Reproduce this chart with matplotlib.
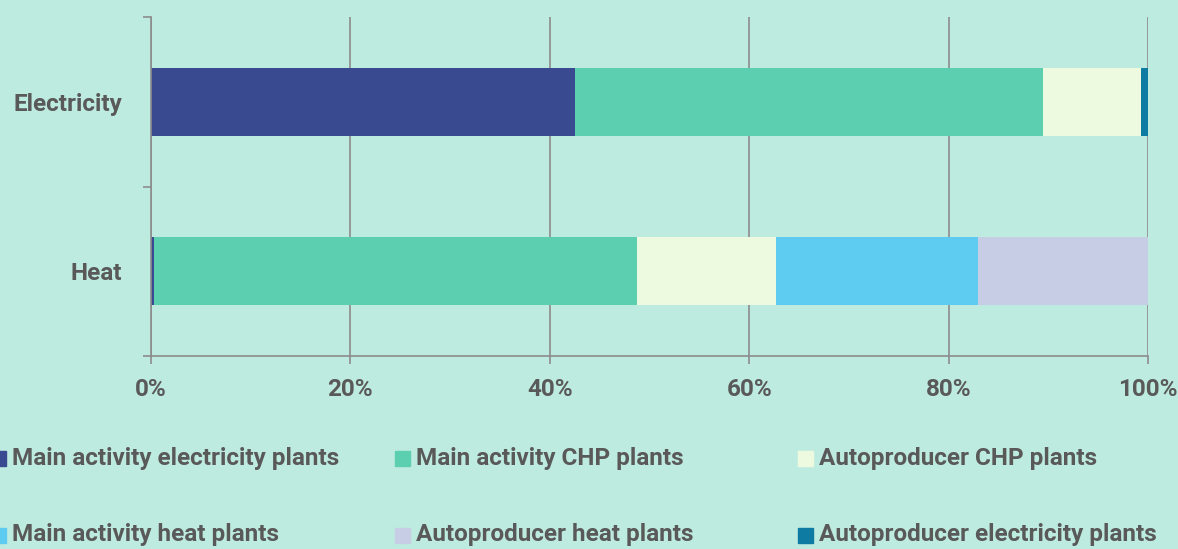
import matplotlib
matplotlib.use("Agg")
import matplotlib.pyplot as plt
from matplotlib.patches import Rectangle
from matplotlib.ticker import FuncFormatter

categories = ["Electricity", "Heat"]
series = [
    "Main activity electricity plants",
    "Main activity CHP plants",
    "Autoproducer CHP plants",
    "Main activity heat plants",
    "Autoproducer heat plants",
    "Autoproducer electricity plants",
]
main_elec = [42.5, 0.3]
main_chp = [47.0, 48.4]
auto_chp = [9.8, 14.0]
main_heat = [0.0, 20.2]
auto_heat = [0.0, 17.1]
auto_elec = [0.7, 0.0]
values = [main_elec, main_chp, auto_chp, main_heat, auto_heat, auto_elec]
colors = ["#3a4a91", "#5dcfb1", "#eefadf", "#5ecbf0", "#c8cde6", "#0e7ba3"]
xticks = [0, 20, 40, 60, 80, 100]

BG = "#beebdf"
TXT = "#595959"
GRID = "#8c8c8c"
FS = 17.5

plt.rcParams["font.family"] = ["Roboto", "DejaVu Sans"]
plt.rcParams["font.weight"] = "bold"

fig = plt.figure(figsize=(11.78, 5.49), dpi=100, facecolor=BG)
ax = fig.add_axes([151/1178, 1-356/549, (1148-151)/1178, (356-17)/549])
ax.set_facecolor(BG)

ypos = list(range(len(categories)))
left = [0.0] * len(categories)
for name, vals, c in zip(series, values, colors):
    ax.barh(ypos, vals, left=left, height=0.4, color=c, label=name, zorder=3)
    left = [l + v for l, v in zip(left, vals)]

ax.set_xlim(0, 100)
ax.set_ylim(1.5, -0.5)
ax.set_xticks(xticks)
ax.xaxis.set_major_formatter(FuncFormatter(lambda v, p: f"{v:.0f}%"))
ax.set_yticks([-0.5, 0.5, 1.5])
ax.set_yticklabels([])
ax.set_yticks(ypos, minor=True)
ax.set_yticklabels(categories, minor=True)
ax.tick_params(axis="y", which="minor", length=0, pad=21, labelsize=FS, labelcolor=TXT)
ax.tick_params(axis="y", which="major", length=6, color=GRID, width=1.2)
ax.tick_params(axis="x", length=6, color=GRID, width=1.2, labelsize=FS, labelcolor=TXT, pad=10)
for lab in ax.get_xticklabels() + ax.get_yticklabels(minor=True):
    lab.set_fontweight("bold")
ax.grid(axis="x", color=GRID, linewidth=1.2, zorder=1)
for s in ["top", "right"]:
    ax.spines[s].set_visible(False)
for s in ["left", "bottom"]:
    ax.spines[s].set_color(GRID)
    ax.spines[s].set_linewidth(1.2)
    ax.spines[s].set_zorder(4)

col_x = [-9, 395, 798]
row_y = [458, 535]
for i, (name, c) in enumerate(zip(series, colors)):
    x = col_x[i % 3]
    y = row_y[i // 3]
    fig.patches.append(Rectangle((x/1178, 1-(y+7.5)/549), 15/1178, 15/549,
                                 transform=fig.transFigure, color=c, figure=fig))
    fig.text((x+21)/1178, 1-y/549, name, ha="left", va="center",
             fontsize=FS, fontweight="bold", color=TXT)

fig.savefig("out.png", dpi=100, facecolor=BG)
